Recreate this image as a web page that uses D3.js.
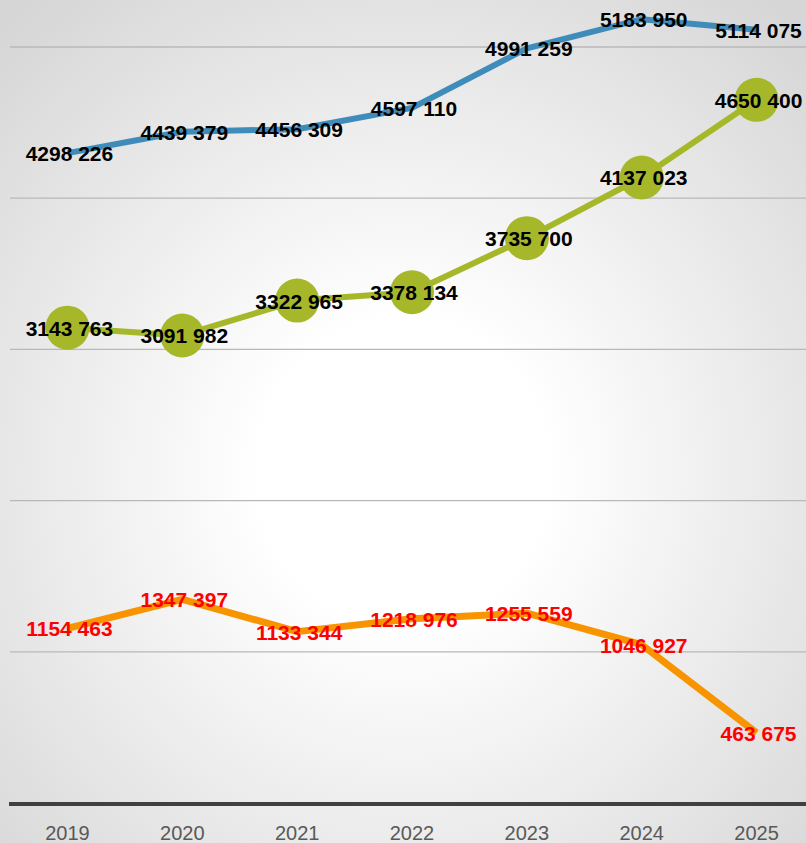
<!DOCTYPE html>
<html>
<head>
<meta charset="utf-8">
<script src="https://cdn.jsdelivr.net/npm/d3@7"></script>
<style>
  html, body { margin: 0; padding: 0; overflow: hidden; }
  svg { display: block; }
</style>
</head>
<body>
<svg id="chart" width="806" height="843"></svg>
<script>
const years = ['2019', '2020', '2021', '2022', '2023', '2024', '2025'];
const blueValues = [4298226, 4439379, 4456309, 4597110, 4991259, 5183950, 5114075];
const greenValues = [3143763, 3091982, 3322965, 3378134, 3735700, 4137023, 4650400];
const orangeValues = [1154463, 1347397, 1133344, 1218976, 1255559, 1046927, 463675];
const gridTicks = [1000000, 2000000, 3000000, 4000000, 5000000];

const svg = d3.select('#chart');
const W = 806, H = 843;

// background: soft radial grey
const defs = svg.append('defs');
const grad = defs.append('radialGradient')
    .attr('id', 'bg')
    .attr('cx', '50%').attr('cy', '56%').attr('r', '72%');
grad.append('stop').attr('offset', '0.25').attr('stop-color', '#ffffff');
grad.append('stop').attr('offset', '1').attr('stop-color', '#d6d6d6');
svg.append('rect').attr('width', W).attr('height', H).attr('fill', 'url(#bg)');

const x = d3.scalePoint().domain(years).range([10, 814]).padding(0.5);
const y = d3.scaleLinear().domain([0, 5000000]).range([803, 47]);

// only the last three digits are grouped: 4298 226
const fmt = d3.formatLocale({decimal: ',', thousands: ' ', grouping: [3, 9], currency: ['', '']}).format(',d');

// gridlines
svg.append('g').selectAll('line')
    .data(gridTicks)
    .join('line')
    .attr('x1', 10).attr('x2', W)
    .attr('y1', d => y(d)).attr('y2', d => y(d))
    .style('stroke', '#b8b8b8')
    .style('stroke-width', 1.3);

// axis
svg.append('line')
    .attr('x1', 9).attr('x2', W)
    .attr('y1', y(0) + 1).attr('y2', y(0) + 1)
    .style('stroke', '#404040')
    .style('stroke-width', 4);

svg.append('g').selectAll('text')
    .data(years)
    .join('text')
    .attr('x', d => x(d))
    .attr('y', 840)
    .attr('text-anchor', 'middle')
    .style('font-family', 'Liberation Sans, Arial, sans-serif')
    .style('font-size', '20px')
    .style('fill', '#595959')
    .text(d => d);

const series = [
    {values: blueValues, color: '#3f8cbb', width: 6, label: '#000000', marker: false},
    {values: greenValues, color: '#a6b82a', width: 6, label: '#000000', marker: true},
    {values: orangeValues, color: '#f79400', width: 7, label: '#ff0000', marker: false}
];

const line = d3.line()
    .x((d, i) => x(years[i]))
    .y(d => y(d));

series.forEach(s => {
    svg.append('path')
        .datum(s.values)
        .attr('d', line)
        .style('fill', 'none')
        .style('stroke', s.color)
        .style('stroke-width', s.width)
        .style('stroke-linejoin', 'round');
});

series.filter(s => s.marker).forEach(s => {
    svg.append('g').selectAll('circle')
        .data(s.values)
        .join('circle')
        .attr('cx', (d, i) => x(years[i]))
        .attr('cy', d => y(d))
        .attr('r', 22)
        .style('fill', s.color);
});

series.forEach(s => {
    svg.append('g').selectAll('text')
        .data(s.values)
        .join('text')
        .attr('x', (d, i) => x(years[i]) + 2)
        .attr('y', d => y(d) + 8)
        .attr('text-anchor', 'middle')
        .style('font-family', 'Liberation Sans, Arial, sans-serif')
        .style('font-weight', 'bold')
        .style('font-size', '21px')
        .style('fill', s.label)
        .text(d => fmt(d));
});
</script>
</body>
</html>
